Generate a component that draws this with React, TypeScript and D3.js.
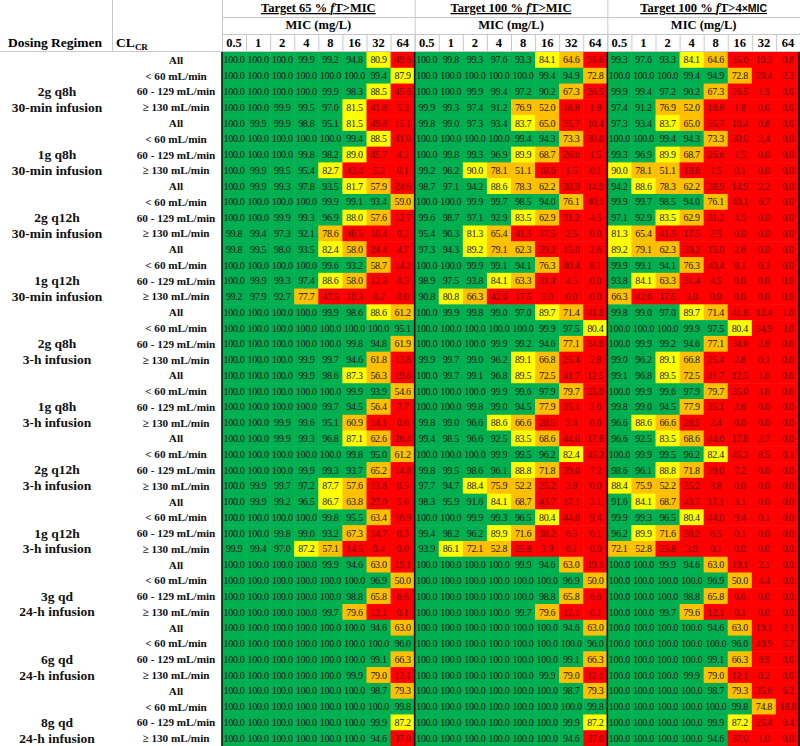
import React, { useEffect, useRef } from 'react';
import * as d3 from 'd3';

// MIC tick labels (mg/L)
const mics = ['0.5', '1', '2', '4', '8', '16', '32', '64'];
const targetKeys = ['t65', 't100', 't100x4'];

const regimens = [
  ['2g q8h', '30-min infusion'],
  ['1g q8h', '30-min infusion'],
  ['2g q12h', '30-min infusion'],
  ['1g q12h', '30-min infusion'],
  ['2g q8h', '3-h infusion'],
  ['1g q8h', '3-h infusion'],
  ['2g q12h', '3-h infusion'],
  ['1g q12h', '3-h infusion'],
  ['3g qd', '24-h infusion'],
  ['6g qd', '24-h infusion'],
  ['8g qd', '24-h infusion'],
];

const clcrGroups = ['All', '< 60 mL/min', '60 - 129 mL/min', '\u2265 130 mL/min'];

// Target 65 % fT>MIC
const target65 = [
  [100.0, 100.0, 100.0, 99.9, 99.2, 94.8, 80.9, 49.6],
  [100.0, 100.0, 100.0, 100.0, 100.0, 100.0, 99.4, 87.9],
  [100.0, 100.0, 100.0, 100.0, 99.9, 98.3, 88.5, 45.6],
  [100.0, 100.0, 99.9, 99.5, 97.0, 81.5, 41.8, 5.3],
  [100.0, 99.9, 99.9, 98.8, 95.1, 81.5, 49.8, 15.1],
  [100.0, 100.0, 100.0, 100.0, 100.0, 99.4, 88.5, 41.0],
  [100.0, 100.0, 100.0, 99.8, 98.2, 89.0, 45.7, 4.2],
  [100.0, 99.9, 99.5, 95.4, 82.7, 43.4, 5.2, 0.1],
  [100.0, 99.9, 99.3, 97.8, 93.5, 81.7, 57.9, 24.6],
  [100.0, 100.0, 100.0, 100.0, 99.9, 99.1, 93.4, 59.0],
  [100.0, 100.0, 99.9, 99.3, 96.9, 88.0, 57.6, 12.7],
  [99.8, 99.4, 97.3, 92.1, 78.6, 46.5, 10.4, 0.2],
  [99.8, 99.5, 98.0, 93.5, 82.4, 58.0, 24.4, 4.7],
  [100.0, 100.0, 100.0, 100.0, 99.6, 93.2, 58.7, 14.2],
  [100.0, 99.9, 99.3, 97.4, 88.6, 58.0, 12.3, 0.3],
  [99.2, 97.9, 92.7, 77.7, 47.5, 10.3, 0.2, 0.0],
  [100.0, 100.0, 100.0, 100.0, 99.9, 98.6, 88.6, 61.2],
  [100.0, 100.0, 100.0, 100.0, 100.0, 100.0, 100.0, 95.1],
  [100.0, 100.0, 100.0, 100.0, 100.0, 99.8, 94.8, 61.9],
  [100.0, 100.0, 100.0, 99.9, 99.7, 94.6, 61.8, 13.8],
  [100.0, 100.0, 100.0, 99.9, 98.6, 87.3, 56.3, 19.6],
  [100.0, 100.0, 100.0, 100.0, 100.0, 99.9, 93.9, 54.6],
  [100.0, 100.0, 100.0, 100.0, 99.7, 94.5, 56.4, 7.7],
  [100.0, 100.0, 99.9, 99.6, 95.1, 60.9, 14.1, 0.6],
  [100.0, 100.0, 99.9, 99.3, 96.8, 87.1, 62.6, 26.4],
  [100.0, 100.0, 100.0, 100.0, 100.0, 99.8, 95.0, 61.2],
  [100.0, 100.0, 100.0, 99.9, 99.3, 93.7, 65.2, 14.8],
  [100.0, 99.9, 99.7, 97.2, 87.7, 57.6, 13.8, 0.5],
  [100.0, 99.9, 99.2, 96.5, 86.7, 63.8, 27.0, 5.6],
  [100.0, 100.0, 100.0, 100.0, 99.8, 95.5, 63.4, 16.9],
  [100.0, 100.0, 99.8, 99.0, 93.2, 67.3, 14.7, 0.3],
  [99.9, 99.4, 97.0, 87.2, 57.1, 14.5, 0.4, 0.0],
  [100.0, 100.0, 100.0, 100.0, 99.9, 94.6, 63.0, 19.1],
  [100.0, 100.0, 100.0, 100.0, 100.0, 100.0, 96.9, 50.0],
  [100.0, 100.0, 100.0, 100.0, 100.0, 98.8, 65.8, 6.6],
  [100.0, 100.0, 100.0, 100.0, 99.7, 79.6, 12.1, 0.1],
  [100.0, 100.0, 100.0, 100.0, 100.0, 100.0, 94.6, 63.0],
  [100.0, 100.0, 100.0, 100.0, 100.0, 100.0, 100.0, 96.0],
  [100.0, 100.0, 100.0, 100.0, 100.0, 100.0, 99.1, 66.3],
  [100.0, 100.0, 100.0, 100.0, 100.0, 99.9, 79.0, 12.1],
  [100.0, 100.0, 100.0, 100.0, 100.0, 100.0, 98.7, 79.3],
  [100.0, 100.0, 100.0, 100.0, 100.0, 100.0, 100.0, 99.8],
  [100.0, 100.0, 100.0, 100.0, 100.0, 100.0, 99.9, 87.2],
  [100.0, 100.0, 100.0, 100.0, 100.0, 100.0, 94.6, 37.0],
];

// Target 100 % fT>MIC
const target100 = [
  [100.0, 99.8, 99.3, 97.6, 93.3, 84.1, 64.6, 35.6],
  [100.0, 100.0, 100.0, 100.0, 100.0, 99.4, 94.9, 72.8],
  [100.0, 100.0, 99.9, 99.4, 97.2, 90.2, 67.3, 26.5],
  [99.9, 99.3, 97.4, 91.2, 76.9, 52.0, 18.8, 1.8],
  [99.8, 99.0, 97.3, 93.4, 83.7, 65.0, 35.7, 10.4],
  [100.0, 100.0, 100.0, 100.0, 99.4, 94.3, 73.3, 30.0],
  [100.0, 99.8, 99.3, 96.9, 89.9, 68.7, 26.6, 1.5],
  [99.2, 96.2, 90.0, 78.1, 51.1, 18.6, 1.5, 0.1],
  [98.7, 97.1, 94.2, 88.6, 78.3, 62.2, 38.9, 14.9],
  [100.0, 100.0, 99.9, 99.7, 98.5, 94.0, 76.1, 40.1],
  [99.6, 98.7, 97.1, 92.9, 83.5, 62.9, 31.2, 4.5],
  [95.4, 90.3, 81.3, 65.4, 41.5, 17.5, 2.5, 0.0],
  [97.3, 94.3, 89.2, 79.1, 62.3, 39.2, 15.0, 2.6],
  [100.0, 100.0, 99.9, 99.1, 94.1, 76.3, 40.4, 8.1],
  [98.9, 97.5, 93.8, 84.1, 63.3, 31.4, 4.5, 0.0],
  [90.8, 80.8, 66.3, 42.6, 17.5, 3.0, 0.0, 0.0],
  [100.0, 99.9, 99.8, 99.0, 97.0, 89.7, 71.4, 41.8],
  [100.0, 100.0, 100.0, 100.0, 100.0, 99.9, 97.5, 80.4],
  [100.0, 100.0, 100.0, 99.9, 99.2, 94.6, 77.1, 34.6],
  [99.9, 99.7, 99.0, 96.2, 89.1, 66.8, 25.4, 2.8],
  [100.0, 99.7, 99.1, 96.8, 89.5, 72.5, 41.7, 12.5],
  [100.0, 100.0, 100.0, 99.9, 99.6, 97.9, 79.7, 35.0],
  [100.0, 100.0, 99.8, 99.0, 94.5, 77.9, 35.1, 2.6],
  [99.8, 99.0, 96.6, 88.6, 66.6, 28.5, 2.4, 0.0],
  [99.4, 98.5, 96.6, 92.5, 83.5, 68.6, 44.6, 17.8],
  [100.0, 100.0, 100.0, 99.9, 99.5, 96.2, 82.4, 45.2],
  [99.8, 99.5, 98.6, 96.1, 88.8, 71.8, 39.0, 7.2],
  [97.7, 94.7, 88.4, 75.9, 52.2, 25.2, 3.8, 0.0],
  [98.3, 95.9, 91.6, 84.1, 68.7, 43.7, 17.1, 3.1],
  [100.0, 100.0, 99.9, 99.3, 96.5, 80.4, 44.0, 9.4],
  [99.4, 98.2, 96.2, 89.9, 71.6, 38.2, 6.5, 0.1],
  [93.9, 86.1, 72.1, 52.8, 25.8, 3.9, 0.1, 0.0],
  [100.0, 100.0, 100.0, 100.0, 99.9, 94.6, 63.0, 19.1],
  [100.0, 100.0, 100.0, 100.0, 100.0, 100.0, 96.9, 50.0],
  [100.0, 100.0, 100.0, 100.0, 100.0, 98.8, 65.8, 6.6],
  [100.0, 100.0, 100.0, 100.0, 99.7, 79.6, 12.1, 0.1],
  [100.0, 100.0, 100.0, 100.0, 100.0, 100.0, 94.6, 63.0],
  [100.0, 100.0, 100.0, 100.0, 100.0, 100.0, 100.0, 96.0],
  [100.0, 100.0, 100.0, 100.0, 100.0, 100.0, 99.1, 66.3],
  [100.0, 100.0, 100.0, 100.0, 100.0, 99.9, 79.0, 12.1],
  [100.0, 100.0, 100.0, 100.0, 100.0, 100.0, 98.7, 79.3],
  [100.0, 100.0, 100.0, 100.0, 100.0, 100.0, 100.0, 99.8],
  [100.0, 100.0, 100.0, 100.0, 100.0, 100.0, 99.9, 87.2],
  [100.0, 100.0, 100.0, 100.0, 100.0, 100.0, 94.6, 37.0],
];

// Target 100 % fT>4xMIC
const target100x4 = [
  [99.3, 97.6, 93.3, 84.1, 64.6, 35.6, 10.3, 0.8],
  [100.0, 100.0, 100.0, 99.4, 94.9, 72.8, 29.4, 2.3],
  [99.9, 99.4, 97.2, 90.2, 67.3, 26.5, 1.9, 0.0],
  [97.4, 91.2, 76.9, 52.0, 18.8, 1.8, 0.0, 0.0],
  [97.3, 93.4, 83.7, 65.0, 35.7, 10.4, 0.8, 0.0],
  [100.0, 100.0, 99.4, 94.3, 73.3, 30.0, 2.4, 0.0],
  [99.3, 96.9, 89.9, 68.7, 26.6, 1.5, 0.0, 0.0],
  [90.0, 78.1, 51.1, 18.6, 1.5, 0.1, 0.0, 0.0],
  [94.2, 88.6, 78.3, 62.2, 38.9, 14.9, 2.2, 0.0],
  [99.9, 99.7, 98.5, 94.0, 76.1, 40.1, 6.7, 0.0],
  [97.1, 92.9, 83.5, 62.9, 31.2, 4.5, 0.0, 0.0],
  [81.3, 65.4, 41.5, 17.5, 2.5, 0.0, 0.0, 0.0],
  [89.2, 79.1, 62.3, 39.2, 15.0, 2.6, 0.0, 0.0],
  [99.9, 99.1, 94.1, 76.3, 40.4, 8.1, 0.1, 0.0],
  [93.8, 84.1, 63.3, 31.4, 4.5, 0.0, 0.0, 0.0],
  [66.3, 42.6, 17.5, 3.0, 0.0, 0.0, 0.0, 0.0],
  [99.8, 99.0, 97.0, 89.7, 71.4, 41.8, 12.4, 1.0],
  [100.0, 100.0, 100.0, 99.9, 97.5, 80.4, 34.9, 3.0],
  [100.0, 99.9, 99.2, 94.6, 77.1, 34.6, 2.6, 0.0],
  [99.0, 96.2, 89.1, 66.8, 25.4, 2.8, 0.1, 0.0],
  [99.1, 96.8, 89.5, 72.5, 41.7, 12.5, 1.0, 0.0],
  [100.0, 99.9, 99.6, 97.9, 79.7, 35.0, 3.0, 0.0],
  [99.8, 99.0, 94.5, 77.9, 35.1, 2.6, 0.0, 0.0],
  [96.6, 88.6, 66.6, 28.5, 2.4, 0.0, 0.0, 0.0],
  [96.6, 92.5, 83.5, 68.6, 44.6, 17.8, 2.7, 0.0],
  [100.0, 99.9, 99.5, 96.2, 82.4, 45.2, 8.5, 0.1],
  [98.6, 96.1, 88.8, 71.8, 39.0, 7.2, 0.0, 0.0],
  [88.4, 75.9, 52.2, 25.2, 3.8, 0.0, 0.0, 0.0],
  [91.6, 84.1, 68.7, 43.7, 17.1, 3.1, 0.0, 0.0],
  [99.9, 99.3, 96.5, 80.4, 44.0, 9.4, 0.1, 0.0],
  [96.2, 89.9, 71.6, 38.2, 6.5, 0.1, 0.0, 0.0],
  [72.1, 52.8, 25.8, 3.9, 0.1, 0.0, 0.0, 0.0],
  [100.0, 100.0, 99.9, 94.6, 63.0, 19.1, 2.1, 0.0],
  [100.0, 100.0, 100.0, 100.0, 96.9, 50.0, 4.4, 0.0],
  [100.0, 100.0, 100.0, 98.8, 65.8, 6.6, 0.0, 0.0],
  [100.0, 100.0, 99.7, 79.6, 12.1, 0.1, 0.0, 0.0],
  [100.0, 100.0, 100.0, 100.0, 94.6, 63.0, 19.1, 2.1],
  [100.0, 100.0, 100.0, 100.0, 100.0, 96.0, 49.9, 5.7],
  [100.0, 100.0, 100.0, 100.0, 99.1, 66.3, 6.9, 0.0],
  [100.0, 100.0, 100.0, 99.9, 79.0, 12.1, 0.2, 0.0],
  [100.0, 100.0, 100.0, 100.0, 98.7, 79.3, 35.6, 6.2],
  [100.0, 100.0, 100.0, 100.0, 100.0, 99.8, 74.8, 18.8],
  [100.0, 100.0, 100.0, 100.0, 99.9, 87.2, 25.4, 0.4],
  [100.0, 100.0, 100.0, 100.0, 94.6, 37.0, 1.0, 0.0],
];

const tables: Record<string, number[][]> = { t65: target65, t100: target100, t100x4: target100x4 };

const serif = '"Liberation Serif", "Times New Roman", serif';

const App = () => {
  const chartRef = useRef<SVGSVGElement>(null);

  useEffect(() => {
    const width = 800;
    const height = 746;
    const regimenW = 112;
    const left = 222;
    const top = 52;
    const headH = [0, 17, 34, 52];

    const svg = d3.select(chartRef.current);
    svg.selectAll('*').remove();
    svg.attr('width', width).attr('height', height);

    svg.append('rect').attr('width', width).attr('height', height).attr('fill', '#fff');

    const rowIds = d3.range(regimens.length * clcrGroups.length);
    const y = d3.scaleBand<number>().domain(rowIds).range([top, height]);
    const g = d3.scaleBand<string>().domain(targetKeys).range([left, width]);
    const x = d3.scaleBand<string>().domain(mics).range([0, g.bandwidth()]);
    const color = d3.scaleThreshold<number, string>()
      .domain([50, 80, 90.05])
      .range(['#ff0000', '#ffc000', '#ffff00', '#00b050']);
    const fmt = d3.format('.1f');

    // cells
    const cells: { t: string; r: number; m: string; v: number }[] = [];
    targetKeys.forEach(t => {
      tables[t].forEach((row, r) => {
        row.forEach((v, i) => cells.push({ t, r, m: mics[i], v }));
      });
    });

    svg.append('g')
      .selectAll('rect')
      .data(cells)
      .join('rect')
        .attr('x', d => g(d.t)! + x(d.m)!)
        .attr('y', d => y(d.r)!)
        .attr('width', x.bandwidth() + 0.5)
        .attr('height', y.bandwidth() + 0.5)
        .attr('fill', d => color(d.v));

    svg.append('g')
      .selectAll('text')
      .data(cells)
      .join('text')
        .attr('x', d => g(d.t)! + x(d.m)! + x.bandwidth() / 2)
        .attr('y', d => y(d.r)! + y.bandwidth() / 2 + 3.6)
        .attr('text-anchor', 'middle')
        .attr('font-family', serif)
        .attr('font-size', 10)
        .attr('letter-spacing', -0.3)
        .attr('fill', d => (d.v < 50 ? '#6e0000' : '#151515'))
        .text(d => fmt(d.v));

    // header grid lines
    const grid = svg.append('g').attr('stroke', '#c8c8c8').attr('stroke-width', 1);
    grid.append('line').attr('x1', left).attr('x2', width).attr('y1', headH[1] + 0.5).attr('y2', headH[1] + 0.5);
    grid.append('line').attr('x1', left).attr('x2', width).attr('y1', headH[2] + 0.5).attr('y2', headH[2] + 0.5);
    grid.append('line').attr('x1', 0).attr('x2', width).attr('y1', top - 0.5).attr('y2', top - 0.5);
    [regimenW, left].forEach(px => {
      grid.append('line').attr('x1', px + 0.5).attr('x2', px + 0.5).attr('y1', 0).attr('y2', top);
    });
    targetKeys.forEach(t => {
      grid.append('line').attr('x1', g(t)! + 0.5).attr('x2', g(t)! + 0.5).attr('y1', 0).attr('y2', top);
      mics.forEach(m => {
        grid.append('line')
          .attr('x1', g(t)! + x(m)! + 0.5).attr('x2', g(t)! + x(m)! + 0.5)
          .attr('y1', headH[2]).attr('y2', top);
      });
    });

    // thick borders around target groups
    const border = svg.append('g').attr('stroke', '#111').attr('stroke-width', 1.6);
    targetKeys.forEach(t => {
      border.append('line').attr('x1', g(t)!).attr('x2', g(t)!).attr('y1', top).attr('y2', height);
    });
    border.append('line').attr('x1', width - 1).attr('x2', width - 1).attr('y1', top).attr('y2', height);

    // group titles
    const titles = svg.append('g')
      .attr('font-family', serif)
      .attr('font-weight', 'bold')
      .attr('font-size', 12.5)
      .attr('text-anchor', 'middle');

    targetKeys.forEach((t, i) => {
      const cx = g(t)! + g.bandwidth() / 2;
      const title = titles.append('text')
        .attr('x', cx)
        .attr('y', 12)
        .style('text-decoration', 'underline');
      title.append('tspan').text(i === 0 ? 'Target 65 % ' : 'Target 100 % ');
      title.append('tspan').attr('font-style', 'italic').text('f');
      if (i < 2) {
        title.append('tspan').text('T>MIC');
      } else {
        title.append('tspan').text('T>4');
        title.append('tspan')
          .attr('font-family', '"Liberation Sans", Arial, sans-serif')
          .attr('font-size', 10.5)
          .text('\u00d7MIC');
      }
      titles.append('text').attr('x', cx).attr('y', 29).text('MIC (mg/L)');
      mics.forEach(m => {
        titles.append('text')
          .attr('x', g(t)! + x(m)! + x.bandwidth() / 2)
          .attr('y', 47)
          .text(m);
      });
    });

    titles.append('text').attr('x', 55).attr('y', 47).attr('font-size', 13.5).text('Dosing Regimen');
    const cl = titles.append('text').attr('x', 132).attr('y', 47).attr('font-size', 13.5);
    cl.append('tspan').text('CL');
    cl.append('tspan').attr('font-size', 9).attr('dy', 3).text('CR');

    // row labels
    const labels = svg.append('g')
      .attr('font-family', serif)
      .attr('font-weight', 'bold')
      .attr('text-anchor', 'middle')
      .attr('fill', '#111');

    regimens.forEach((reg, b) => {
      const r0 = b * clcrGroups.length;
      labels.append('text')
        .attr('x', 57)
        .attr('y', y(r0 + 2)! + y.bandwidth() / 2 + 4.5)
        .attr('font-size', 13.5)
        .text(reg[0]);
      labels.append('text')
        .attr('x', 57)
        .attr('y', y(r0 + 3)! + y.bandwidth() / 2 + 4.5)
        .attr('font-size', 13.5)
        .text(reg[1]);
      clcrGroups.forEach((c, j) => {
        labels.append('text')
          .attr('x', 176)
          .attr('y', y(r0 + j)! + y.bandwidth() / 2 + 4)
          .attr('font-size', 11.2)
          .text(c);
      });
    });
  }, []);

  return (
    <svg ref={chartRef} style={{ position: 'absolute', left: 0, top: 0, display: 'block' }}></svg>
  );
};

export default App;
